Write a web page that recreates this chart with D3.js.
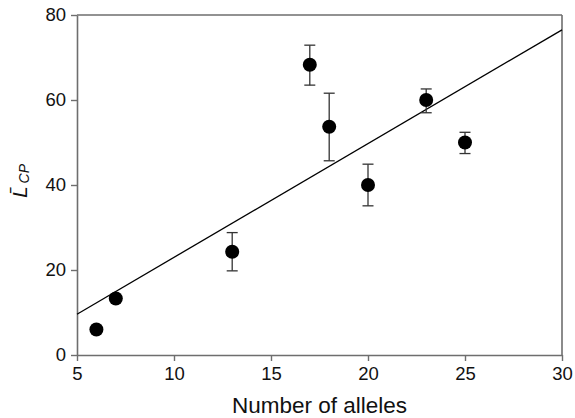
<!DOCTYPE html>
<html>
<head>
<meta charset="utf-8">
<script src="https://cdn.jsdelivr.net/npm/d3@7"></script>
<style>
  body { margin: 0; background: #fff; }
  text { font-family: "Liberation Sans", Arial, sans-serif; }
</style>
</head>
<body>
<div id="chart"></div>
<script>
// Data
const alleles = [6, 7, 13, 17, 18, 20, 23, 25];
const meanLcp = [6, 13.3, 24.3, 68.3, 53.7, 40, 60, 50];
const errHigh = [6, 13.3, 28.8, 72.9, 61.6, 44.9, 62.6, 52.4];
const errLow = [6, 13.3, 19.8, 63.5, 45.7, 35.1, 57.0, 47.4];

// Regression line end points
const fitX = [5, 30];
const fitY = [9.6, 76.5];

const xTicks = [5, 10, 15, 20, 25, 30];
const yTicks = [0, 20, 40, 60, 80];

const margin = { top: 15, right: 13, bottom: 63, left: 77 };
const width = 575 - margin.left - margin.right;
const height = 418 - margin.top - margin.bottom;
const axisColor = "#6e6e6e";

const svg = d3.select("#chart")
  .append("svg")
  .attr("width", 575)
  .attr("height", 418)
  .append("g")
  .attr("transform", `translate(${margin.left},${margin.top})`);

const x = d3.scaleLinear().domain([5, 30]).range([0, width]);
const y = d3.scaleLinear().domain([0, 80]).range([height, 0]);

// Axes
const xAxis = svg.append("g")
  .attr("transform", `translate(0,${height})`)
  .call(d3.axisBottom(x).tickValues(xTicks).tickSize(6).tickPadding(6).tickSizeOuter(0));

const yAxis = svg.append("g")
  .call(d3.axisLeft(y).tickValues(yTicks).tickSize(6).tickPadding(5).tickSizeOuter(0));

[xAxis, yAxis].forEach(g => {
  g.select(".domain").attr("stroke", axisColor).attr("stroke-width", 1.6);
  g.selectAll(".tick line").attr("stroke", axisColor).attr("stroke-width", 1.4);
  g.selectAll(".tick text")
    .attr("fill", "#111")
    .style("font-size", "18.5px")
    .style("font-family", "'Liberation Sans', Arial, sans-serif");
});

// Top and right frame
svg.append("line")
  .attr("x1", 0).attr("x2", width).attr("y1", 0).attr("y2", 0)
  .attr("stroke", axisColor).attr("stroke-width", 1.6);
svg.append("line")
  .attr("x1", width).attr("x2", width).attr("y1", 0).attr("y2", height)
  .attr("stroke", axisColor).attr("stroke-width", 1.6);

// Fit line
svg.append("line")
  .attr("x1", x(fitX[0])).attr("y1", y(fitY[0]))
  .attr("x2", x(fitX[1])).attr("y2", y(fitY[1]))
  .attr("stroke", "#000")
  .attr("stroke-width", 1.3);

const points = alleles.map((a, i) => ({ a, m: meanLcp[i], hi: errHigh[i], lo: errLow[i] }));

// Error bars
const capW = 5.5;
const bars = svg.selectAll("g.err")
  .data(points.filter(d => d.hi > d.lo))
  .join("g")
  .attr("class", "err")
  .attr("stroke", "#333")
  .attr("stroke-width", 1.3);

bars.append("line")
  .attr("x1", d => x(d.a)).attr("x2", d => x(d.a))
  .attr("y1", d => y(d.hi)).attr("y2", d => y(d.lo));
bars.append("line")
  .attr("x1", d => x(d.a) - capW).attr("x2", d => x(d.a) + capW)
  .attr("y1", d => y(d.hi)).attr("y2", d => y(d.hi));
bars.append("line")
  .attr("x1", d => x(d.a) - capW).attr("x2", d => x(d.a) + capW)
  .attr("y1", d => y(d.lo)).attr("y2", d => y(d.lo));

// Points
svg.selectAll("circle.pt")
  .data(points)
  .join("circle")
  .attr("class", "pt")
  .attr("cx", d => x(d.a))
  .attr("cy", d => y(d.m))
  .attr("r", 7)
  .attr("fill", "#000");

// Axis titles
svg.append("text")
  .attr("x", width / 2)
  .attr("y", height + 58)
  .attr("text-anchor", "middle")
  .style("font-size", "22.5px")
  .attr("fill", "#111")
  .text("Number of alleles");

const yLab = svg.append("text")
  .attr("transform", `translate(${27 - margin.left},${181 - margin.top}) rotate(-90)`)
  .attr("text-anchor", "middle")
  .attr("fill", "#111")
  .style("font-style", "italic");
yLab.append("tspan").style("font-size", "21px").text("L\u0304");
yLab.append("tspan").style("font-size", "14px").attr("dx", 3).attr("dy", 2).text("CP");
</script>
</body>
</html>
